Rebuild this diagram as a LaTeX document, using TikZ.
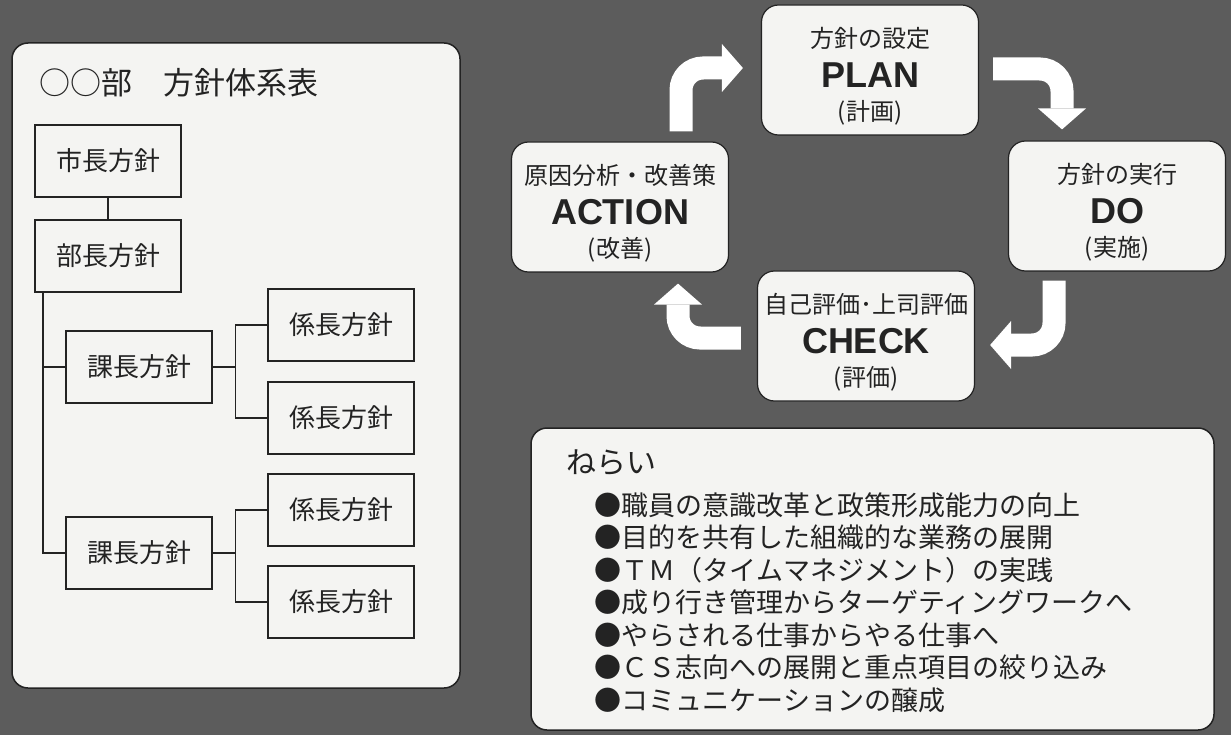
\documentclass[tikz,border=0pt]{standalone}
\usepackage{fontspec}
\setmainfont{Noto Sans CJK JP}
\newfontfamily\pdcafont{Liberation Sans}
\usetikzlibrary{arrows.meta,positioning}
\definecolor{bgdark}{RGB}{92,92,92}
\definecolor{paper}{RGB}{244,244,242}
\definecolor{ink}{RGB}{35,35,35}

\begin{document}
\begin{tikzpicture}[x=1pt,y=-1pt,
  panel/.style={draw=ink, line width=1.5pt, fill=paper, rounded corners=16pt},
  polbox/.style={draw=ink, line width=1.3pt, fill=paper, minimum width=146pt,
                 minimum height=72pt, font=\fontsize{26}{26}\selectfont, text=ink},
  link/.style={draw=ink, line width=1.3pt},
  pdca/.style={draw=ink, line width=1.2pt, fill=paper, rounded corners=17pt,
               minimum width=217pt, minimum height=130pt},
  pdcatxt/.style={align=center, font=\fontsize{24}{33}\selectfont, text=ink},
  cyc/.style={white, line width=23pt, rounded corners=22pt,
              -{Triangle[width=48pt,length=21pt,line width=0pt]}},
  aim/.style={anchor=west, font=\fontsize{27}{27}\selectfont, text=ink}]
  \useasboundingbox (0,0) rectangle (1231,735);
  \fill[bgdark] (0,0) rectangle (1231,735);

  % policy tree
  \draw[panel] (12,43) rectangle (460,688);
  \node[anchor=west, font=\fontsize{31}{31}\selectfont, text=ink] (ttl) at (36,83) {○○部　方針体系表};
  \node[polbox] (mayor) at (108,161) {市長方針};
  \node[polbox] (dir) at (108,256) {部長方針};
  \node[polbox] (sec1) at (139,367) {課長方針};
  \node[polbox] (sec2) at (139,553) {課長方針};
  \node[polbox] (chf1) at (341,325) {係長方針};
  \node[polbox] (chf2) at (341,418) {係長方針};
  \node[polbox] (chf3) at (341,510) {係長方針};
  \node[polbox] (chf4) at (341,602) {係長方針};

  \coordinate (trunk) at (43,0);
  \draw[link] (mayor) -- (dir);
  \draw[link] (dir.south -| trunk) |- (sec2.west);
  \draw[link] (trunk |- sec1.west) -- (sec1.west);
  \draw[link] (sec1.east) -- ++(23,0) coordinate (fork1);
  \draw[link] (chf1.west) -| (fork1) |- (chf2.west);
  \draw[link] (sec2.east) -- ++(23,0) coordinate (fork2);
  \draw[link] (chf3.west) -| (fork2) |- (chf4.west);

  % PDCA cycle
  \node[pdca] (plan) at (870,70) {};
  \node[pdca] (run) at (1117,206) {};
  \node[pdca] (check) at (866,336) {};
  \node[pdca] (act) at (620,207) {};
  \node[pdcatxt] (plantxt) at ([yshift=-6pt]plan.center)
    {方針の設定\\[7pt]{\pdcafont\bfseries\fontsize{36}{36}\selectfont PLAN}\\(計画)};
  \node[pdcatxt] (runtxt) at ([yshift=-6pt]run.center)
    {方針の実行\\[7pt]{\pdcafont\bfseries\fontsize{36}{36}\selectfont DO}\\(実施)};
  \node[pdcatxt] (checktxt) at ([yshift=-6pt]check.center)
    {自己評価･上司評価\\[7pt]{\pdcafont\bfseries\fontsize{36}{36}\selectfont CHECK}\\(評価)};
  \node[pdcatxt] (acttxt) at ([yshift=-6pt]act.center)
    {原因分析・改善策\\[7pt]{\pdcafont\bfseries\fontsize{36}{36}\selectfont ACTION}\\(改善)};

  \draw[cyc] ([xshift=61pt,yshift=10pt]act.north) |- ([xshift=-18pt,yshift=2pt]plan.west);
  \draw[cyc] ([xshift=14pt,yshift=1pt]plan.east) -| ([xshift=-55pt,yshift=11pt]run.north);
  \draw[cyc] ([xshift=-63pt,yshift=-9pt]run.south) |- ([xshift=15pt,yshift=-9pt]check.east);
  \draw[cyc] ([xshift=-16pt,yshift=-2pt]check.west) -| ([xshift=58pt,yshift=-11pt]act.south);

  % aims
  \draw[panel] (531,428) rectangle (1214,730);
  \node[anchor=west, font=\fontsize{30}{30}\selectfont, text=ink] (aimttl) at (563,463) {ねらい};
  \foreach \t [count=\i] in {職員の意識改革と政策形成能力の向上,
      目的を共有した組織的な業務の展開,
      ＴＭ（タイムマネジメント）の実践,
      成り行き管理からターゲティングワークへ,
      やらされる仕事からやる仕事へ,
      ＣＳ志向への展開と重点項目の絞り込み,
      コミュニケーションの醸成}
    \node[aim] (aim\i) at (591,{505+32.5*(\i-1)}) {●\t};
\end{tikzpicture}
\end{document}
